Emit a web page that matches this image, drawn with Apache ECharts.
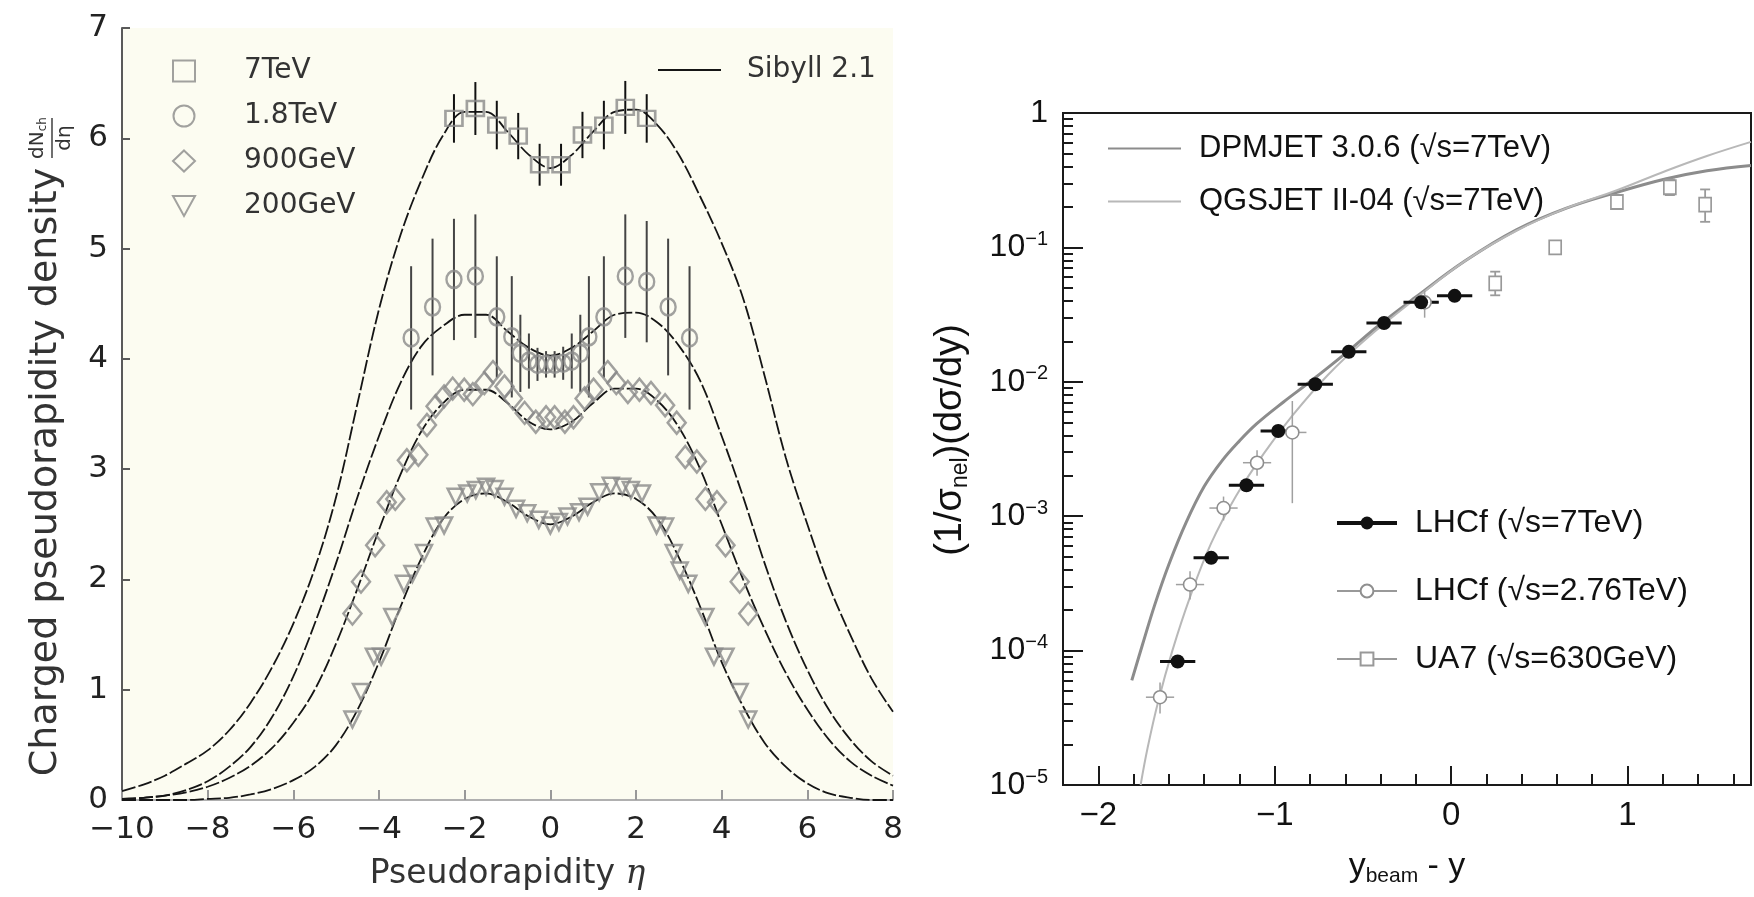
<!DOCTYPE html>
<html><head><meta charset="utf-8">
<script src="https://cdn.jsdelivr.net/npm/echarts@6/dist/echarts.min.js"></script>
<style>html,body{margin:0;padding:0;background:#fff}#c{width:1754px;height:897px}</style>
</head><body><div id="c"></div>
<script>
// ---------- Left panel: charged pseudorapidity density ----------
const etaTeV7 = [-2.25,-1.75,-1.25,-0.75,-0.25,0.25,0.75,1.25,1.75,2.25];
const dnTeV7  = [6.18,6.27,6.12,6.02,5.76,5.76,6.03,6.12,6.28,6.18];
const errTeV7 = [0.22,0.24,0.22,0.21,0.19,0.19,0.21,0.22,0.24,0.22];

const etaTeV18 = [-3.25,-2.75,-2.25,-1.75,-1.25,-0.9,-0.7,-0.5,-0.3,-0.1,0.1,0.3,0.5,0.7,0.9,1.25,1.75,2.25,2.75,3.25];
const dnTeV18  = [4.19,4.47,4.72,4.75,4.38,4.2,4.05,3.98,3.95,3.95,3.95,3.96,3.98,4.05,4.2,4.38,4.75,4.7,4.47,4.19];
const errTeV18 = [0.65,0.62,0.55,0.56,0.55,0.55,0.35,0.25,0.15,0.12,0.12,0.15,0.25,0.35,0.55,0.55,0.56,0.55,0.62,0.65];

const etaGeV900 = [-4.62,-4.42,-4.09,-3.82,-3.62,-3.35,-3.08,-2.88,-2.68,-2.48,-2.28,-2.01,-1.81,-1.54,-1.34,-1.07,-0.87,-0.6,-0.34,-0.1,0.1,0.34,0.54,0.8,1.01,1.34,1.54,1.81,2.08,2.35,2.68,2.95,3.15,3.42,3.62,3.89,4.09,4.42,4.62];
const dnGeV900  = [1.69,1.98,2.31,2.7,2.73,3.08,3.13,3.4,3.57,3.66,3.73,3.72,3.68,3.78,3.88,3.75,3.64,3.51,3.43,3.47,3.47,3.43,3.47,3.64,3.72,3.88,3.78,3.7,3.72,3.69,3.58,3.42,3.11,3.07,2.73,2.7,2.31,1.98,1.69];

const etaGeV200 = [-4.62,-4.42,-4.12,-3.95,-3.69,-3.42,-3.22,-2.95,-2.7,-2.48,-2.21,-1.94,-1.74,-1.5,-1.3,-1.07,-0.8,-0.54,-0.27,0,0.2,0.4,0.67,0.87,1.14,1.41,1.68,1.88,2.14,2.48,2.68,2.88,3.02,3.22,3.62,3.82,4.09,4.42,4.62];
const dnGeV200  = [0.73,0.98,1.3,1.3,1.66,1.96,2.05,2.24,2.48,2.49,2.75,2.78,2.81,2.84,2.82,2.75,2.64,2.6,2.54,2.49,2.52,2.57,2.61,2.66,2.79,2.85,2.84,2.81,2.78,2.49,2.48,2.24,2.08,1.96,1.66,1.3,1.3,0.98,0.73];

const sibyllEta = [-10,-9.5,-9,-8.5,-8,-7.5,-7,-6.5,-6,-5.5,-5,-4.5,-4,-3.5,-3,-2.5,-2,-1.5,-1,-0.5,0,0.5,1,1.5,2,2.5,3,3.5,4,4.5,5,5.5,6,6.5,7,7.5,8];
const sibyll7   = [0.08,0.14,0.22,0.33,0.45,0.63,0.88,1.2,1.6,2.1,2.75,3.6,4.45,5.12,5.63,6.03,6.24,6.24,6.06,5.85,5.73,5.85,6.06,6.24,6.26,6.12,5.85,5.47,5.05,4.55,3.85,3.1,2.5,1.95,1.5,1.1,0.8];
const sibyll18  = [0,0.02,0.04,0.09,0.17,0.3,0.48,0.75,1.12,1.6,2.15,2.75,3.3,3.78,4.12,4.3,4.4,4.4,4.25,4.1,4.03,4.1,4.25,4.4,4.42,4.33,4.12,3.8,3.3,2.75,2.15,1.62,1.18,0.82,0.55,0.35,0.22];
const sibyll900 = [0.01,0.02,0.04,0.07,0.12,0.2,0.31,0.47,0.7,1.0,1.42,1.92,2.45,2.95,3.35,3.6,3.72,3.72,3.6,3.43,3.36,3.43,3.6,3.73,3.73,3.62,3.38,3.0,2.5,2.0,1.55,1.15,0.82,0.55,0.35,0.22,0.13];
const sibyll200 = [0,0,0,0,0.01,0.02,0.05,0.1,0.18,0.3,0.5,0.82,1.25,1.75,2.2,2.55,2.73,2.78,2.7,2.57,2.5,2.57,2.7,2.78,2.73,2.55,2.2,1.75,1.25,0.85,0.52,0.3,0.15,0.06,0.02,0,0];

// ---------- Right panel: (1/sigma_inel)(dsigma/dy) ----------
const lhcf7X  = [-1.55,-1.36,-1.16,-0.98,-0.77,-0.58,-0.38,-0.17,0.02];
const lhcf7Y  = [8.3e-5,4.9e-4,1.7e-3,4.3e-3,9.6e-3,0.0167,0.0274,0.039,0.0436];
const lhcf7Dx = 0.1;

const lhcf276X  = [-1.65,-1.48,-1.29,-1.1,-0.9,-0.15];
const lhcf276Y  = [4.5e-5,3.1e-4,1.15e-3,2.5e-3,4.2e-3,0.039];
const lhcf276Lo = [3.4e-5,2.4e-4,9.3e-4,2.0e-3,1.25e-3,0.030];
const lhcf276Hi = [5.8e-5,3.9e-4,1.4e-3,3.1e-3,7.2e-3,0.048];
const lhcf276Dx = 0.08;

const ua7X  = [0.25,0.59,0.94,1.24,1.44];
const ua7Y  = [0.054,0.10,0.218,0.28,0.208];
const ua7Lo = [0.044,0.092,0.2,0.245,0.155];
const ua7Hi = [0.066,0.11,0.24,0.32,0.27];

const dpmX = [-1.81,-1.75,-1.68,-1.6,-1.5,-1.4,-1.3,-1.2,-1.1,-0.95,-0.8,-0.6,-0.4,-0.2,0.08,0.37,0.65,0.94,1.22,1.45,1.7];
const dpmY = [6.0e-5,1.1e-4,2.19e-4,4.37e-4,9.1e-4,1.66e-3,2.57e-3,3.63e-3,4.9e-3,7.08e-3,0.01,0.0162,0.0269,0.0427,0.0794,0.135,0.195,0.257,0.324,0.372,0.407];
const qgsX = [-1.76,-1.72,-1.66,-1.58,-1.48,-1.36,-1.22,-1.06,-0.9,-0.7,-0.49,-0.2,0.08,0.37,0.65,0.94,1.22,1.45,1.7];
const qgsY = [1e-5,1.9e-5,4.2e-5,1e-4,2.5e-4,6.3e-4,1.41e-3,2.95e-3,5.6e-3,0.0112,0.0204,0.0417,0.0794,0.133,0.195,0.266,0.372,0.479,0.61];

const rightXMajor = [-2,-1,0,1];
const rightXMinor = [-1.8,-1.6,-1.4,-1.2,-0.8,-0.6,-0.4,-0.2,0.2,0.4,0.6,0.8,1.2,1.4,1.6];
const rightYExp   = [-5,-4,-3,-2,-1,0];

// ---------- helpers ----------
const FL = 'DejaVu Sans';
const FR = 'Liberation Sans';
const minus = v => String(v).replace('-', '\u2212');
const pairs = (xs, ys) => xs.map((x, i) => [x, ys[i]]);
const minorYLog = [];
rightYExp.slice(0, -1).forEach(e => { for (let m = 2; m <= 9; m++) minorYLog.push(e + Math.log10(m)); });
const downTriangle = 'path://M0,0L20,0L10,18Z';

function vBar(xi, yi, xs, lo, hi, color, width, cap) {
  return {
    type: 'custom', xAxisIndex: xi, yAxisIndex: yi, silent: true, z: 3,
    encode: { x: 0, y: [1, 2] },
    data: xs.map((x, i) => [x, lo[i], hi[i]]),
    renderItem(params, api) {
      const a = api.coord([api.value(0), api.value(1)]);
      const b = api.coord([api.value(0), api.value(2)]);
      const st = { stroke: color, lineWidth: width };
      const ch = [{ type: 'line', shape: { x1: a[0], y1: a[1], x2: b[0], y2: b[1] }, style: st }];
      if (cap) {
        ch.push({ type: 'line', shape: { x1: a[0] - cap, y1: a[1], x2: a[0] + cap, y2: a[1] }, style: st });
        ch.push({ type: 'line', shape: { x1: b[0] - cap, y1: b[1], x2: b[0] + cap, y2: b[1] }, style: st });
      }
      return { type: 'group', children: ch };
    }
  };
}
function hBar(xi, yi, xs, ys, dx, color, width) {
  return {
    type: 'custom', xAxisIndex: xi, yAxisIndex: yi, silent: true, z: 3,
    encode: { x: [0, 2, 3], y: 1 },
    data: xs.map((x, i) => [x, ys[i], x - dx, x + dx]),
    renderItem(params, api) {
      const a = api.coord([api.value(2), api.value(1)]);
      const b = api.coord([api.value(3), api.value(1)]);
      return { type: 'line', shape: { x1: a[0], y1: a[1], x2: b[0], y2: b[1] }, style: { stroke: color, lineWidth: width } };
    }
  };
}
function sibyll(ys) {
  return { type: 'line', name: 'Sibyll 2.1', xAxisIndex: 0, yAxisIndex: 0, data: pairs(sibyllEta, ys),
    symbol: 'none', smooth: 0.35, z: 2, silent: true,
    lineStyle: { color: '#151515', width: 1.8, type: [14, 3] }, itemStyle: { color: '#151515' } };
}
const hollow = (c, w) => ({ color: 'transparent', borderColor: c, borderWidth: w });
const lo = (y, e) => y.map((v, i) => v - e[i]);
const hi = (y, e) => y.map((v, i) => v + e[i]);
const noZero = (o) => Object.assign({ onZero: false }, o);

const option = {
  animation: false,
  backgroundColor: '#ffffff',
  grid: [
    { left: 122, top: 28, width: 771, height: 772, show: true, backgroundColor: '#fcfcf1', borderWidth: 0 },
    { left: 1063, top: 113, width: 688, height: 672, show: true, backgroundColor: '#ffffff', borderColor: '#1a1a1a', borderWidth: 2 }
  ],
  xAxis: [
    { type: 'value', gridIndex: 0, min: -10, max: 8, interval: 2, position: 'bottom',
      axisLine: noZero({ lineStyle: { color: '#b0b0b0', width: 2 } }),
      axisTick: { inside: true, length: 10, lineStyle: { color: '#999', width: 2 } },
      axisLabel: { fontFamily: FL, fontSize: 31, color: '#222', margin: 14, formatter: minus },
      splitLine: { show: false },
      name: '{a|Pseudorapidity }{i|\u03b7}', nameLocation: 'middle', nameGap: 58,
      nameTextStyle: { rich: { a: { fontFamily: FL, fontSize: 33, color: '#333' }, i: { fontFamily: 'DejaVu Serif', fontStyle: 'italic', fontSize: 33, color: '#333' } } } },
    { type: 'value', gridIndex: 1, min: -2.2, max: 1.7, position: 'bottom',
      axisLine: noZero({ lineStyle: { color: '#1a1a1a', width: 2 } }),
      axisTick: { inside: true, length: 19, customValues: rightXMajor, lineStyle: { color: '#1a1a1a', width: 2 } },
      axisLabel: { customValues: rightXMajor, fontFamily: FR, fontSize: 33, color: '#111', margin: 14, formatter: minus },
      splitLine: { show: false },
      name: '{a|y}{b|beam}{a| - y}', nameLocation: 'middle', nameGap: 62,
      nameTextStyle: { rich: { a: { fontFamily: FR, fontSize: 34, color: '#111', lineHeight: 40 }, b: { fontFamily: FR, fontSize: 21, color: '#111', verticalAlign: 'bottom', lineHeight: 20 } } } },
    { type: 'value', gridIndex: 1, min: -2.2, max: 1.7, position: 'bottom',
      axisLine: noZero({ show: false }),
      axisTick: { inside: true, length: 11, customValues: rightXMinor, lineStyle: { color: '#1a1a1a', width: 2 } },
      axisLabel: { show: false }, splitLine: { show: false } }
  ],
  yAxis: [
    { type: 'value', gridIndex: 0, min: 0, max: 7, interval: 1, position: 'left',
      axisLine: noZero({ show: true, lineStyle: { color: '#5a5a5a', width: 2 } }),
      axisTick: { show: true, inside: true, length: 8, lineStyle: { color: '#5a5a5a', width: 2 } },
      axisLabel: { fontFamily: FL, fontSize: 31, color: '#222', margin: 14 },
      splitLine: { show: false } },
    { type: 'log', logBase: 10, gridIndex: 1, min: 1e-5, max: 1, position: 'left',
      axisLine: noZero({ show: true, lineStyle: { color: '#1a1a1a', width: 2 } }),
      axisTick: { show: false }, axisLabel: { show: false }, splitLine: { show: false }, minorTick: { show: false } },
    { type: 'value', gridIndex: 1, min: -5, max: 0, interval: 1, position: 'left',
      axisLine: noZero({ show: false }),
      axisTick: { show: true, inside: true, length: 20, lineStyle: { color: '#1a1a1a', width: 2 } },
      axisLabel: { margin: 15, formatter: v => v === 0 ? '{b|1}' : '{b|10}{s|' + minus(v) + '}',
        rich: { b: { fontFamily: FR, fontSize: 32, color: '#111', lineHeight: 36 }, s: { fontFamily: FR, fontSize: 20, color: '#111', verticalAlign: 'top', lineHeight: 20 } } },
      splitLine: { show: false } },
    { type: 'value', gridIndex: 1, min: -5, max: 0, position: 'left',
      axisLine: noZero({ show: false }),
      axisTick: { show: true, inside: true, length: 10, customValues: minorYLog, lineStyle: { color: '#1a1a1a', width: 2 } },
      axisLabel: { show: false }, splitLine: { show: false } }
  ],
  legend: [
    { data: ['7TeV', '1.8TeV', '900GeV', { name: '200GeV', icon: downTriangle }], orient: 'vertical', left: 172, top: 56, padding: 0,
      itemWidth: 22, itemHeight: 21, itemGap: 15, selectedMode: false,
      textStyle: { fontFamily: FL, fontSize: 28, color: '#333', lineHeight: 30, padding: [0, 0, 0, 44] } },
    { data: ['Sibyll 2.1'], left: 657, top: 55, padding: 0, itemWidth: 63, itemHeight: 14, selectedMode: false,
      lineStyle: { type: 'solid', width: 2 }, itemStyle: { opacity: 0 },
      textStyle: { fontFamily: FL, fontSize: 28, color: '#333', lineHeight: 30, padding: [0, 0, 0, 21] } },
    { data: ['DPMJET 3.0.6 (\u221as=7TeV)', 'QGSJET II-04 (\u221as=7TeV)'], orient: 'vertical', left: 1107, top: 133, padding: 0,
      itemWidth: 73, itemHeight: 14, itemGap: 22, selectedMode: false, itemStyle: { opacity: 0 },
      textStyle: { fontFamily: FR, fontSize: 31, color: '#111', lineHeight: 30, padding: [0, 0, 0, 13] } },
    { data: [
        { name: 'LHCf (\u221as=7TeV)', lineStyle: { opacity: 1, width: 4, color: '#111' } },
        { name: 'LHCf (\u221as=2.76TeV)', lineStyle: { opacity: 1, width: 2, color: '#999' } },
        { name: 'UA7 (\u221as=630GeV)', lineStyle: { opacity: 1, width: 2, color: '#999' } }
      ], orient: 'vertical', left: 1335, top: 507, padding: 0,
      itemWidth: 60, itemHeight: 16, itemGap: 36, selectedMode: false,
      textStyle: { fontFamily: FR, fontSize: 32, color: '#111', lineHeight: 30, padding: [0, 0, 0, 13] } }
  ],
  graphic: [
    { type: 'group', x: 46, y: 472, rotation: Math.PI / 2, silent: true, children: [
      { type: 'text', x: 0, y: 0, style: { text: 'Charged pseudorapidity density', fontFamily: FL, fontSize: 38, fill: '#333',
          textAlign: 'center', textVerticalAlign: 'middle', align: 'center', verticalAlign: 'middle' } },
      { type: 'text', x: 334, y: -8, style: { text: '{a|dN}{b|ch}', textAlign: 'center', textVerticalAlign: 'middle', align: 'center', verticalAlign: 'middle',
          rich: { a: { fontFamily: FL, fontSize: 20, fill: '#333', lineHeight: 22 }, b: { fontFamily: FL, fontSize: 12, fill: '#333', verticalAlign: 'bottom', lineHeight: 13 } } } },
      { type: 'line', shape: { x1: 314, y1: 6, x2: 354, y2: 6 }, style: { stroke: '#333', lineWidth: 1.4 } },
      { type: 'text', x: 334, y: 19, style: { text: 'd\u03b7', fontFamily: FL, fontSize: 20, fill: '#333',
          textAlign: 'center', textVerticalAlign: 'middle', align: 'center', verticalAlign: 'middle' } }
    ] },
    { type: 'text', x: 951, y: 440, rotation: Math.PI / 2, silent: true,
      style: { text: '{a|(1/\u03c3}{b|nel}{a|)(d\u03c3/dy)}', textAlign: 'center', textVerticalAlign: 'middle', align: 'center', verticalAlign: 'middle',
        rich: { a: { fontFamily: FR, fontSize: 38, fill: '#111', lineHeight: 42 }, b: { fontFamily: FR, fontSize: 23, fill: '#111', verticalAlign: 'bottom', lineHeight: 18 } } } }
  ],
  series: [
    sibyll(sibyll7), sibyll(sibyll18), sibyll(sibyll900), sibyll(sibyll200),
    { type: 'scatter', name: '7TeV', xAxisIndex: 0, yAxisIndex: 0, data: pairs(etaTeV7, dnTeV7), symbol: 'rect', symbolSize: [17, 15], itemStyle: hollow('#8a8a8a', 2.5), z: 4 },
    { type: 'scatter', name: '1.8TeV', xAxisIndex: 0, yAxisIndex: 0, data: pairs(etaTeV18, dnTeV18), symbol: 'circle', symbolSize: [15, 17], itemStyle: hollow('#8a8a8a', 2.5), z: 4 },
    { type: 'scatter', name: '900GeV', xAxisIndex: 0, yAxisIndex: 0, data: pairs(etaGeV900, dnGeV900), symbol: 'diamond', symbolSize: [18, 22], itemStyle: hollow('#8a8a8a', 2.5), z: 4 },
    { type: 'scatter', name: '200GeV', xAxisIndex: 0, yAxisIndex: 0, data: pairs(etaGeV200, dnGeV200), symbol: 'triangle', symbolRotate: 180, symbolSize: [16, 16], itemStyle: hollow('#8a8a8a', 2.5), z: 4 },
    vBar(0, 0, etaTeV7, lo(dnTeV7, errTeV7), hi(dnTeV7, errTeV7), '#111', 2, 0),
    vBar(0, 0, etaTeV18, lo(dnTeV18, errTeV18), hi(dnTeV18, errTeV18), '#444', 2, 0),

    { type: 'line', name: 'DPMJET 3.0.6 (\u221as=7TeV)', xAxisIndex: 1, yAxisIndex: 1, data: pairs(dpmX, dpmY), symbol: 'none', smooth: 0.4, z: 2,
      lineStyle: { color: '#8c8c8c', width: 3 }, itemStyle: { color: '#8c8c8c' } },
    { type: 'line', name: 'QGSJET II-04 (\u221as=7TeV)', xAxisIndex: 1, yAxisIndex: 1, data: pairs(qgsX, qgsY), symbol: 'none', smooth: 0.4, z: 2,
      lineStyle: { color: '#b8b8b8', width: 2 }, itemStyle: { color: '#b8b8b8' } },
    hBar(1, 1, lhcf276X, lhcf276Y, lhcf276Dx, '#a0a0a0', 1.5),
    vBar(1, 1, lhcf276X, lhcf276Lo, lhcf276Hi, '#a0a0a0', 1.5, 0),
    vBar(1, 1, ua7X, ua7Lo, ua7Hi, '#9a9a9a', 1.8, 5),
    hBar(1, 1, lhcf7X, lhcf7Y, lhcf7Dx, '#111', 3),
    { type: 'line', name: 'LHCf (\u221as=2.76TeV)', xAxisIndex: 1, yAxisIndex: 1, data: pairs(lhcf276X, lhcf276Y), symbol: 'circle', symbolSize: 13,
      showSymbol: true, showAllSymbol: true, z: 5, lineStyle: { color: '#999', opacity: 0 }, itemStyle: { color: '#ffffff', borderColor: '#8f8f8f', borderWidth: 1.6 } },
    { type: 'line', name: 'UA7 (\u221as=630GeV)', xAxisIndex: 1, yAxisIndex: 1, data: pairs(ua7X, ua7Y), symbol: 'rect', symbolSize: [12, 14],
      showSymbol: true, showAllSymbol: true, z: 5, lineStyle: { color: '#999', opacity: 0 }, itemStyle: { color: '#ffffff', borderColor: '#999', borderWidth: 1.8 } },
    { type: 'line', name: 'LHCf (\u221as=7TeV)', xAxisIndex: 1, yAxisIndex: 1, data: pairs(lhcf7X, lhcf7Y), symbol: 'circle', symbolSize: 14,
      showSymbol: true, showAllSymbol: true, z: 6, lineStyle: { color: '#111', opacity: 0 }, itemStyle: { color: '#111' } }
  ]
};
const chart = echarts.init(document.getElementById('c'), null, { renderer: 'canvas' });
chart.setOption(option);
</script>
</body></html>
